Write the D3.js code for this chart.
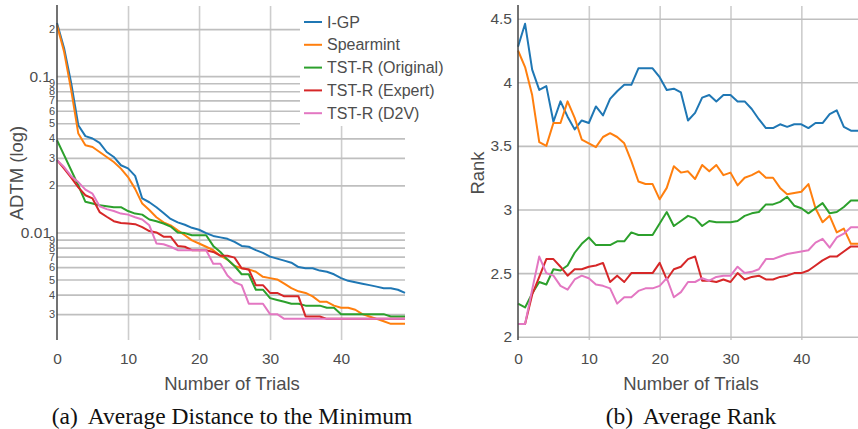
<!DOCTYPE html>
<html>
<head>
<meta charset="utf-8">
<script src="https://cdn.jsdelivr.net/npm/d3@7"></script>
<style>
  body { margin: 0; background: #fff; }
  svg text { font-family: "Liberation Sans", Arial, sans-serif; fill: #4d4d4d; }
  svg text.cap { font-family: "Liberation Serif", "Times New Roman", serif; fill: #111; }
</style>
</head>
<body>
<svg id="fig" width="858" height="429"></svg>
<script>
// series names + colours (legend order = draw order)
var names = ['I-GP', 'Spearmint', 'TST-R (Original)', 'TST-R (Expert)', 'TST-R (D2V)'];
var colors = ['#1f77b4', '#ff7f0e', '#2ca02c', '#d62728', '#e377c2'];

// (a) average distance to the minimum, trials 0..49
var igpA = [0.219,0.151,0.090,0.0485,0.0413,0.0399,0.0374,0.0327,0.0304,0.0269,
            0.0257,0.0230,0.0165,0.0156,0.0145,0.0133,0.0122,0.0116,0.0112,0.0107,
            0.0104,0.0099,0.0095,0.0093,0.0091,0.0087,0.0082,0.0081,0.0077,0.0074,
            0.0070,0.0068,0.0066,0.0064,0.0060,0.0059,0.0059,0.0057,0.0056,0.0054,
            0.0051,0.0049,0.0048,0.0047,0.0046,0.0045,0.0044,0.0044,0.0043,0.0041];
var spearA = [0.212,0.143,0.0813,0.0429,0.0361,0.0352,0.0327,0.0304,0.0282,0.0256,
              0.0226,0.0190,0.0153,0.0139,0.0125,0.0116,0.0111,0.0103,0.0096,0.0089,
              0.0085,0.0081,0.0077,0.0071,0.0067,0.0061,0.0059,0.0058,0.0056,0.0052,
              0.0051,0.0050,0.0047,0.0044,0.0042,0.0041,0.0039,0.0036,0.0036,0.0034,
              0.0033,0.0033,0.0032,0.0030,0.0029,0.0028,0.0027,0.0026,0.0026,0.0026];
var origA = [0.0389,0.0312,0.0250,0.0200,0.0157,0.0153,0.0149,0.0147,0.0145,0.0145,
             0.0137,0.0132,0.0130,0.0121,0.0118,0.0114,0.0109,0.0100,0.0099,0.0096,
             0.0096,0.0096,0.0082,0.0075,0.0067,0.0061,0.0054,0.0054,0.0043,0.0043,
             0.0038,0.0037,0.0036,0.0035,0.0035,0.0034,0.0034,0.0034,0.0033,0.0033,
             0.0030,0.0030,0.0030,0.0030,0.0030,0.0030,0.0030,0.0029,0.0029,0.0029];
var expA = [0.0290,0.0256,0.0224,0.0194,0.0173,0.0165,0.0135,0.0126,0.0118,0.0115,
            0.0114,0.0113,0.0108,0.0102,0.0100,0.0094,0.0094,0.0082,0.0081,0.0077,
            0.0077,0.0077,0.0075,0.0071,0.0071,0.0069,0.0059,0.0058,0.0046,0.0046,
            0.0041,0.0041,0.0039,0.0039,0.0039,0.0029,0.0029,0.0029,0.0028,0.0028,
            0.0028,0.0028,0.0028,0.0028,0.0028,0.0028,0.0028,0.0028,0.0028,0.0028];
var d2vA = [0.0290,0.0262,0.0229,0.0210,0.0188,0.0177,0.0147,0.0141,0.0137,0.0132,
            0.0130,0.0125,0.0121,0.0111,0.0085,0.0084,0.0081,0.0077,0.0077,0.0077,
            0.0077,0.0077,0.0063,0.0063,0.0053,0.0048,0.0046,0.0035,0.0035,0.0035,
            0.0030,0.0030,0.0028,0.0028,0.0028,0.0028,0.0028,0.0028,0.0028,0.0028,
            0.0028,0.0028,0.0028,0.0028,0.0028,0.0028,0.0028,0.0028,0.0028,0.0028];

// (b) average rank, trials 0..48
var igpR = [4.28,4.46,4.10,3.94,3.97,3.69,3.85,3.73,3.63,3.70,
            3.68,3.81,3.74,3.87,3.93,3.98,3.98,4.11,4.11,4.11,
            4.04,3.94,3.95,3.92,3.70,3.76,3.88,3.90,3.85,3.90,
            3.90,3.85,3.85,3.79,3.71,3.64,3.64,3.67,3.65,3.67,
            3.67,3.64,3.68,3.68,3.75,3.78,3.65,3.62,3.62];
var spearR = [4.25,4.12,3.90,3.53,3.50,3.68,3.68,3.85,3.72,3.55,
              3.52,3.49,3.57,3.60,3.57,3.52,3.38,3.22,3.20,3.20,
              3.08,3.17,3.34,3.29,3.30,3.24,3.35,3.30,3.35,3.27,
              3.29,3.19,3.25,3.27,3.30,3.25,3.25,3.17,3.12,3.13,
              3.14,3.20,3.01,2.90,2.95,2.82,2.85,2.73,2.73];
var origR = [2.26,2.23,2.34,2.43,2.41,2.53,2.52,2.56,2.66,2.73,
             2.78,2.72,2.72,2.72,2.75,2.75,2.82,2.80,2.80,2.80,
             2.89,2.98,2.87,2.91,2.95,2.93,2.87,2.91,2.90,2.90,
             2.90,2.91,2.95,2.97,2.98,3.04,3.04,3.06,3.10,3.03,
             3.01,2.97,3.01,3.05,2.97,2.98,3.02,3.07,3.07];
var expR = [2.10,2.10,2.33,2.47,2.61,2.61,2.55,2.48,2.53,2.53,
            2.55,2.56,2.58,2.43,2.48,2.43,2.50,2.50,2.50,2.50,
            2.58,2.45,2.53,2.55,2.61,2.63,2.44,2.44,2.43,2.45,
            2.43,2.50,2.45,2.47,2.48,2.45,2.45,2.47,2.48,2.50,
            2.50,2.52,2.56,2.60,2.63,2.63,2.67,2.71,2.71];
var d2vR = [2.10,2.10,2.37,2.63,2.50,2.48,2.40,2.37,2.45,2.48,
            2.46,2.41,2.40,2.38,2.26,2.31,2.31,2.36,2.38,2.38,
            2.40,2.46,2.31,2.35,2.43,2.43,2.46,2.44,2.47,2.48,
            2.48,2.55,2.50,2.51,2.53,2.61,2.61,2.63,2.65,2.66,
            2.67,2.68,2.74,2.77,2.70,2.78,2.81,2.86,2.86];

var xTicks = [0, 10, 20, 30, 40];
var rankTicks = [2, 2.5, 3, 3.5, 4, 4.5];

var svg = d3.select('#fig');
var top_ = 6, bottom = 340;

function grid(col) {
  return function(g) {
    g.select('.domain').remove();
    g.selectAll('line').attr('stroke', col).attr('stroke-width', 1.6);
  };
}

function drawPanel(left, right, xMax, yScale, yTicks, yFmt, series, yTitle, titleX, titleShift, capLetter, capText) {
  var x = d3.scaleLinear().domain([0, xMax]).range([left, right]);
  var g = svg.append('g');
  var mid = (left + right) / 2 + titleShift;

  // vertical grid
  g.append('g').attr('transform', 'translate(0,' + bottom + ')')
    .call(d3.axisBottom(x).tickValues(xTicks.slice(1)).tickSize(-(bottom - top_)).tickFormat(''))
    .call(grid('#cdcdcd'));
  // horizontal grid
  g.append('g').attr('transform', 'translate(' + left + ',0)')
    .call(d3.axisLeft(yScale).tickValues(yTicks).tickSize(-(right - left)).tickFormat(''))
    .call(grid('#bfbfbf'));

  var line = d3.line().x(function(d, i) { return x(i); }).y(function(d) { return yScale(d); });
  series.forEach(function(s, i) {
    g.append('path').datum(s).attr('d', line)
      .attr('fill', 'none').attr('stroke', colors[i]).attr('stroke-width', 2)
      .attr('stroke-linejoin', 'round');
  });

  // y axis line
  g.append('line').attr('x1', left).attr('x2', left).attr('y1', top_ - 1).attr('y2', bottom)
    .attr('stroke', '#444').attr('stroke-width', 1.5);

  // x tick labels
  g.append('g').attr('transform', 'translate(0,' + bottom + ')')
    .call(d3.axisBottom(x).tickValues(xTicks).tickSize(0).tickPadding(13))
    .call(function(a) {
      a.select('.domain').remove();
      a.selectAll('text').attr('font-size', 15.5).attr('fill', '#4d4d4d');
    });

  // y tick labels (log panel: small digits for the in-between ticks)
  g.append('g').attr('transform', 'translate(' + left + ',0)')
    .call(d3.axisLeft(yScale).tickValues(yTicks).tickSize(0).tickFormat(yFmt))
    .call(function(a) {
      a.select('.domain').remove();
      a.selectAll('text').attr('fill', '#4d4d4d').each(function(d) {
        var minor = yFmt(d).length === 1 && yScale.base;
        d3.select(this).attr('font-size', minor ? 11 : 15.5).attr('x', minor ? -2 : -6);
      });
    });

  g.append('text').attr('transform', 'translate(' + titleX + ',173) rotate(-90)')
    .attr('text-anchor', 'middle').attr('dy', '0.35em').attr('font-size', 18.5).text(yTitle);
  g.append('text').attr('x', mid).attr('y', 389.5)
    .attr('text-anchor', 'middle').attr('font-size', 18.5).text('Number of Trials');

  var cap = g.append('text').attr('class', 'cap').attr('x', mid).attr('y', 424)
    .attr('text-anchor', 'middle').attr('font-size', 23.5);
  cap.append('tspan').text(capLetter);
  cap.append('tspan').attr('dx', 10).text(capText);
  return g;
}

// (a) log scale panel
var yA = d3.scaleLog().domain([0.00205, 0.281]).range([bottom, top_]);
var logTicks = yA.ticks();
function logFmt(d) {
  var e = Math.floor(Math.log10(d) + 1e-9);
  var m = Math.round(d / Math.pow(10, e));
  return m === 1 ? d3.format('~g')(d) : String(m);
}
var gA = drawPanel(57, 405, 49, yA, logTicks, logFmt, [igpA, spearA, origA, expA, d2vA],
                   'ADTM (log)', 17, 1, '(a)', 'Average Distance to the Minimum');

// legend box
var leg = gA.append('g');
leg.append('rect').attr('x', 300).attr('y', 0).attr('width', 150).attr('height', 126).attr('fill', '#fff');
names.forEach(function(n, i) {
  var y = 22 + i * 22.8;
  leg.append('line').attr('x1', 304).attr('x2', 322).attr('y1', y).attr('y2', y)
    .attr('stroke', colors[i]).attr('stroke-width', 2);
  leg.append('text').attr('x', 327).attr('y', y).attr('dy', '0.35em').attr('font-size', 16).text(n);
});

// (b) rank panel
var yB = d3.scaleLinear().domain([1.974, 4.6]).range([bottom, top_]);
drawPanel(518, 858, 48, yB, rankTicks, d3.format('~g'), [igpR, spearR, origR, expR, d2vR],
          'Rank', 478, 3, '(b)', 'Average Rank');
</script>
</body>
</html>
